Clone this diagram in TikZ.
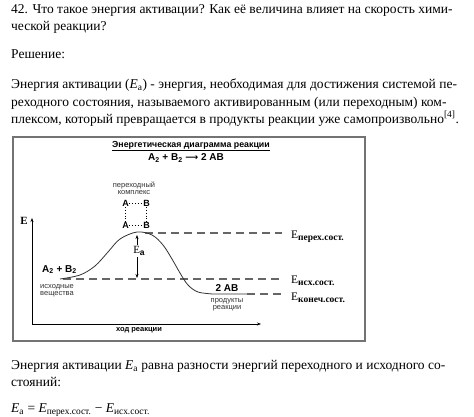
\documentclass[tikz,border=0pt]{standalone}
\usepackage{fontspec}
\setmainfont{Liberation Serif}
\newfontfamily\sansf{Liberation Sans}
\newfontfamily\dejavu{DejaVu Sans}
\usetikzlibrary{arrows.meta}
\newcommand\elab[1]{E\raisebox{-2pt}{\fontsize{9.5}{10}\selectfont\bfseries #1}}
\begin{document}
\begin{tikzpicture}[x=1pt,y=-1pt,
  body/.style={anchor=base west,inner sep=0pt,font=\fontsize{13.5}{16}\selectfont},
  small/.style={inner sep=0pt,font=\sansf\fontsize{7.5}{8}\selectfont,text=black!80},
  boldsans/.style={inner sep=0pt,font=\sansf\bfseries\fontsize{10}{11}\selectfont},
  atom/.style={inner sep=0pt,font=\sansf\bfseries\fontsize{9}{10}\selectfont},
  level/.style={anchor=base west,inner sep=0pt,font=\fontsize{11.5}{12}\selectfont},
  lvl/.style={draw=black!60,line width=1.2pt,dash pattern=on 8pt off 5pt},
  frame/.style={draw=black!55,line width=1.2pt},
  axis/.style={draw=black,line width=0.7pt,-{Stealth[length=4pt,width=3pt]}},
  bond/.style={draw=black,line width=0.9pt,dotted}]
\useasboundingbox (0,0) rectangle (474,416);
\clip (0,0) rectangle (474,416);
\fill[white] (0,0) rectangle (474,416);

% body text
\node[body] (t1) at (11,13) {42. Что такое энергия активации? Как её величина влияет на скорость хими-};
\node[body] (t2) at (11,30) {ческой реакции?};
\node[body] (t3) at (11,58) {Решение:};
\node[body] (t4) at (11,88) {Энергия активации ({\itshape E}\textsubscript{a}) - энергия, необходимая для достижения системой пе-};
\node[body] (t5) at (11,106) {реходного состояния, называемого активированным (или переходным) ком-};
\node[body] (t6) at (11,123) {плексом, который превращается в продукты реакции уже самопроизвольно\textsuperscript{[4]}.};
\node[body] (t7) at (11,369) {Энергия активации {\itshape E}\textsubscript{a} равна разности энергий переходного и исходного со-};
\node[body] (t8) at (11,386) {стояний:};
\node[body] (t9) at (11,412) {{\itshape E}\textsubscript{a} = {\itshape E}\textsubscript{перех.сост.} − {\itshape E}\textsubscript{исх.сост.}};

% frame
\draw[frame] (13,137) rectangle (365,341);

% title
\node[inner sep=0pt,font=\sansf\bfseries\fontsize{8.8}{10}\selectfont] (title) at (191,146) {\underline{Энергетическая диаграмма реакции}};
\node[boldsans] (eq) at (186,158) {A\textsubscript{2} + B\textsubscript{2} {\dejavu\bfseries\fontsize{9}{10}\selectfont ⟶} 2 AB};

% axes
\coordinate (o) at (32,324);
\coordinate (ytip) at (32,218);
\coordinate (xtip) at (261,324);
\draw[axis] (o) -- (ytip);
\draw[axis] (o) -- (xtip);
\node[inner sep=0pt,font=\bfseries\fontsize{11}{12}\selectfont] (E) at (24,221) {E};
\node[inner sep=0pt,font=\sansf\bfseries\fontsize{7.5}{8}\selectfont] (xlab) at (139,330) {ход реакции};

% level lines
\coordinate (peak) at (137,232);
\coordinate (p1) at (145,233);
\coordinate (p2) at (282,233);
\coordinate (r1) at (63,279);
\coordinate (r2) at (282,279);
\coordinate (q1) at (247,294);
\coordinate (q2) at (282,294);
\draw[lvl] (p1) -- (p2);
\draw[lvl] (r1) -- (r2);
\draw[lvl] (q1) -- (q2);
\node[level] (Lp) at (291,238) {\elab{перех.сост.}};
\node[level] (Lr) at (291,283) {\elab{исх.сост.}};
\node[level] (Lq) at (291,300) {\elab{конеч.сост.}};

% curve
\draw[black!80,line width=0.8pt] plot[smooth,tension=0.55] coordinates
 {(60,279) (80,275) (95,266) (108,252) (120,239) (137,232) (152,235) (163,245) (172,259) (180,273) (188,285) (198,292) (213,294)} -- (q1);

% Ea arrow
\coordinate (ea1) at (137,235);
\coordinate (ea2) at (137,278);
\draw[black,line width=0.6pt,{Stealth[length=4pt,width=3pt]}-{Stealth[length=4pt,width=3pt]}] (ea1) -- (ea2);
\node[fill=white,inner sep=1pt,font=\fontsize{11}{12}\selectfont] (Ea) at (139,251) {E\raisebox{-2pt}{\sansf\bfseries\fontsize{8.5}{9}\selectfont a}};

% transition complex
\node[small] (tc1) at (134,185) {переходный};
\node[small] (tc2) at (134,193) {комплекс};
\node[atom] (a1) at (125.5,203.5) {A};
\node[atom] (b1) at (146.5,203.5) {B};
\node[atom] (a2) at (125.5,225) {A};
\node[atom] (b2) at (146.5,225) {B};
\draw[bond] (a1.east) -- (b1.west);
\draw[bond] (a2.east) -- (b2.west);
\draw[bond] (a1.south) -- (a2.north);
\draw[bond] (b1.south) -- (b2.north);

% reactants / products
\node[boldsans,anchor=base west] (re) at (42,272) {A\textsubscript{2} + B\textsubscript{2}};
\node[small,anchor=west] (re1) at (40,287) {исходные};
\node[small,anchor=west] (re2) at (40,294) {вещества};
\node[boldsans,anchor=base] (pr) at (227,291) {2 AB};
\node[small] (pr1) at (227,301) {продукты};
\node[small] (pr2) at (227,308) {реакции};
\end{tikzpicture}
\end{document}
